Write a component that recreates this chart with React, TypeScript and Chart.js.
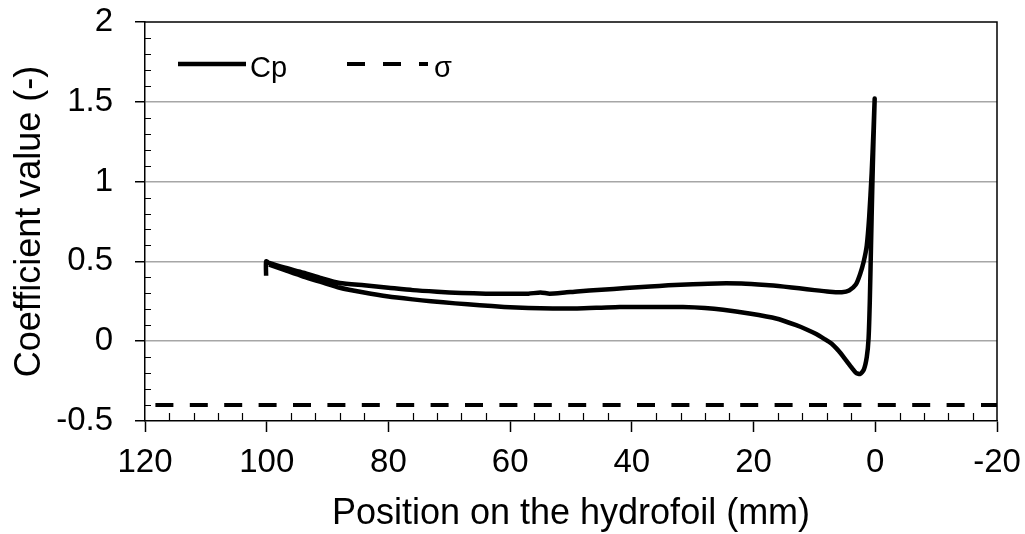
import React, { useEffect, useRef } from "react";
import { Chart, registerables } from "chart.js";

Chart.register(...registerables);

// Cp loop: trailing-edge stub + upper (pressure) branch towards the leading edge
const upperX = [100.1, 100.1, 99.6, 97, 94, 91, 88, 84, 80, 76, 72, 68, 64, 60, 57, 55, 53.5, 51, 49, 45, 41, 37, 34, 30, 26, 22, 18, 15, 12.5, 10, 7.5, 5.5, 4.3, 3.2, 2.5, 1.9, 1.4, 1.0, 0.6, 0.3, 0.1];
const upperY = [0.41, 0.5, 0.49, 0.46, 0.43, 0.395, 0.365, 0.35, 0.335, 0.32, 0.31, 0.302, 0.298, 0.297, 0.298, 0.305, 0.298, 0.305, 0.312, 0.322, 0.333, 0.343, 0.35, 0.357, 0.362, 0.361, 0.352, 0.342, 0.332, 0.32, 0.31, 0.307, 0.318, 0.355, 0.42, 0.5, 0.6, 0.78, 1.05, 1.32, 1.52];
// lower (suction) branch from the leading edge back to the trailing edge
const lowerX = [0.3, 0.5, 0.7, 0.9, 1.1, 1.4, 1.9, 2.5, 3.1, 3.9, 4.9, 6.0, 7.2, 8.4, 9.7, 11.2, 13, 16.3, 20.7, 25, 28, 31.6, 36, 42, 45, 49, 53, 57, 61, 65, 69, 73, 76, 80, 84, 88, 91, 94, 97, 99.6];
const lowerY = [1.25, 0.95, 0.6, 0.25, 0.02, -0.1, -0.18, -0.205, -0.2, -0.165, -0.115, -0.062, -0.015, 0.015, 0.045, 0.072, 0.1, 0.142, 0.173, 0.197, 0.208, 0.214, 0.215, 0.214, 0.21, 0.205, 0.205, 0.208, 0.215, 0.225, 0.237, 0.25, 0.262, 0.28, 0.305, 0.335, 0.37, 0.405, 0.445, 0.48];

const sigmaX = [120, -20];
const sigmaY = [-0.4, -0.4];

const seriesLabels = ["Cp", "σ"];
const xTitle = "Position on the hydrofoil (mm)";
const yTitle = "Coefficient value (-)";

const X_MIN = -20;
const X_MAX = 120;
const X_STEP = 20;
const X_MINOR = 4;
const Y_MIN = -0.5;
const Y_MAX = 2;
const Y_STEP = 0.5;
const Y_MINOR = 0.1;

const FONT = "'Liberation Sans', Arial, sans-serif";
const TICK_FS = 33;
const TITLE_FS = 36;
const LEGEND_FS = 29;

const decorations = {
  id: "decorations",
  afterDraw(chart: any) {
    const { ctx, chartArea } = chart;
    const xs = chart.scales.x;
    const ys = chart.scales.y;
    ctx.save();
    ctx.strokeStyle = "#000";
    ctx.lineWidth = 1.5;
    // top & right frame
    ctx.beginPath();
    ctx.moveTo(chartArea.left, chartArea.top);
    ctx.lineTo(chartArea.right, chartArea.top);
    ctx.lineTo(chartArea.right, chartArea.bottom);
    ctx.stroke();
    // minor ticks y (inward)
    ctx.lineWidth = 1.2;
    ctx.beginPath();
    const nY = Math.round((Y_MAX - Y_MIN) / Y_MINOR);
    for (let i = 1; i < nY; i++) {
      if (i % Math.round(Y_STEP / Y_MINOR) === 0) continue;
      const py = Math.round(ys.getPixelForValue(Y_MIN + i * Y_MINOR)) + 0.5;
      ctx.moveTo(chartArea.left, py);
      ctx.lineTo(chartArea.left + 6, py);
    }
    // minor ticks x (inward)
    const nX = Math.round((X_MAX - X_MIN) / X_MINOR);
    for (let i = 1; i < nX; i++) {
      if (i % Math.round(X_STEP / X_MINOR) === 0) continue;
      const px = Math.round(xs.getPixelForValue(X_MIN + i * X_MINOR)) + 0.5;
      ctx.moveTo(px, chartArea.bottom);
      ctx.lineTo(px, chartArea.bottom - 8);
    }
    ctx.stroke();

    // legend inside the plot area
    const ds = chart.data.datasets;
    const items = [
      { x0: 178, x1: 246, tx: 250 },
      { x0: 347, x1: 428, tx: 434 },
    ];
    const ly = 64;
    ctx.font = `${LEGEND_FS}px ${FONT}`;
    ctx.fillStyle = "#000";
    ctx.textBaseline = "alphabetic";
    ctx.textAlign = "left";
    items.forEach((it, i) => {
      const d = ds[i];
      ctx.beginPath();
      ctx.strokeStyle = d.borderColor;
      ctx.lineWidth = d.borderWidth;
      ctx.setLineDash(d.borderDash && d.borderDash.length ? [18, 18] : []);
      ctx.lineCap = "butt";
      ctx.moveTo(it.x0, ly);
      ctx.lineTo(it.x1, ly);
      ctx.stroke();
      ctx.setLineDash([]);
      ctx.fillText(d.label, it.tx, ly + 13);
    });
    ctx.restore();
  },
};

export default function App() {
  const ref = useRef<HTMLCanvasElement | null>(null);
  useEffect(() => {
    if (!ref.current) return;
    const cpPoints = [
      ...upperX.map((x, i) => ({ x, y: upperY[i] })),
      ...lowerX.map((x, i) => ({ x, y: lowerY[i] })),
    ];
    const sigmaPoints = sigmaX.map((x, i) => ({ x, y: sigmaY[i] }));
    const chart = new Chart(ref.current, {
      type: "scatter",
      data: {
        datasets: [
          {
            label: seriesLabels[0],
            data: cpPoints,
            showLine: true,
            borderColor: "#000",
            backgroundColor: "#000",
            borderWidth: 4.5,
            pointRadius: 0,
            tension: 0.2,
            borderJoinStyle: "round",
            borderCapStyle: "butt",
            fill: false,
          },
          {
            label: seriesLabels[1],
            data: sigmaPoints,
            showLine: true,
            borderColor: "#000",
            backgroundColor: "#000",
            borderWidth: 4,
            borderDash: [18, 16.4],
            borderDashOffset: 24,
            pointRadius: 0,
            fill: false,
          },
        ],
      },
      options: {
        animation: false,
        responsive: false,
        layout: { padding: { left: 0, top: 22, right: 28, bottom: 0 } },
        plugins: { legend: { display: false }, tooltip: { enabled: false } },
        scales: {
          x: {
            type: "linear",
            reverse: true,
            min: X_MIN,
            max: X_MAX,
            ticks: {
              stepSize: X_STEP,
              color: "#000",
              font: { family: FONT, size: TICK_FS },
              padding: 11,
              maxRotation: 0,
              autoSkip: false,
            },
            grid: {
              drawOnChartArea: false,
              drawTicks: true,
              tickLength: 11,
              tickColor: "#000",
              tickWidth: 1.5,
            },
            border: { display: true, color: "#000", width: 1.5 },
            title: {
              display: true,
              text: xTitle,
              color: "#000",
              font: { family: FONT, size: TITLE_FS },
              padding: { top: 0, bottom: -2 },
            },
            afterFit: (s: any) => {
              s.height = 113;
              s.paddingLeft = 0;
              s.paddingRight = 0;
            },
          },
          y: {
            type: "linear",
            min: Y_MIN,
            max: Y_MAX,
            ticks: {
              stepSize: Y_STEP,
              color: "#000",
              font: { family: FONT, size: TICK_FS },
              padding: 22,
              callback: (v: any) => String(Number(v)),
            },
            grid: {
              drawOnChartArea: true,
              drawTicks: true,
              tickLength: 10,
              tickColor: "#000",
              tickWidth: 1.5,
              lineWidth: 1.5,
              color: (c: any) =>
                c.tick && (c.tick.value === Y_MIN || c.tick.value === Y_MAX)
                  ? "rgba(0,0,0,0)"
                  : "#a6a6a6",
            },
            border: { display: true, color: "#000", width: 1.5 },
            title: {
              display: true,
              text: yTitle,
              color: "#000",
              font: { family: FONT, size: TITLE_FS },
              padding: { top: 8, bottom: 0 },
            },
            afterFit: (s: any) => {
              s.width = 145;
              s.paddingTop = 0;
              s.paddingBottom = 0;
            },
          },
        },
      },
      plugins: [decorations],
    });
    return () => chart.destroy();
  }, []);
  return (
    <div style={{ position: "fixed", left: 0, top: 0, width: 1025, height: 534, background: "#fff" }}>
      <canvas ref={ref} width={1025} height={534} style={{ display: "block", width: 1025, height: 534 }} />
    </div>
  );
}
